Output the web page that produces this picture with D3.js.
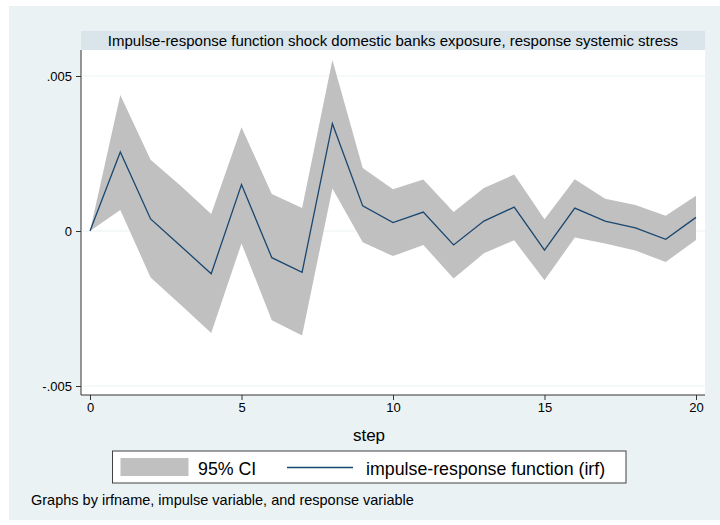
<!DOCTYPE html>
<html>
<head>
<meta charset="utf-8">
<script src="https://cdn.jsdelivr.net/npm/d3@7/dist/d3.min.js"></script>
<style>
    body { margin: 0; background: #ffffff; }
    text { font-family: "Liberation Sans", Arial, sans-serif; fill: #000; }
</style>
</head>
<body>
<div id="chart"></div>
<script>
// values
var steps = d3.range(0, 21);
var irf = [0, 0.00255, 0.00039, -0.00049, -0.00138, 0.0015, -0.00086, -0.00133, 0.00346, 0.00081, 0.00027,
    0.00061, -0.00045, 0.00032, 0.00077, -0.00062, 0.00074, 0.00032, 0.0001, -0.00027, 0.00044];
var upper = [0, 0.00439, 0.0023, 0.00145, 0.00055, 0.00335, 0.00119, 0.00074, 0.00552, 0.00203, 0.00135,
    0.00166, 0.00061, 0.00139, 0.00182, 0.00038, 0.00167, 0.00104, 0.00084, 0.00049, 0.00114];
var lower = [0, 0.00068, -0.0015, -0.00239, -0.00329, -0.0004, -0.00288, -0.00337, 0.00137, -0.00036, -0.00081,
    -0.00045, -0.00153, -0.00072, -0.0003, -0.00159, -0.00021, -0.0004, -0.00063, -0.001, -0.00029];
var yTicks = [-0.005, 0, 0.005];
var yTickLabels = ["-.005", "0", ".005"];
var xTicks = [0, 5, 10, 15, 20];
var title = "Impulse-response function shock domestic banks exposure, response systemic stress";
var legendLabels = ["95% CI", "impulse-response function (irf)"];
var note = "Graphs by irfname, impulse variable, and response variable";

var data = steps.map(function(s, i) {
    return { step: s, irf: irf[i], lo: lower[i], hi: upper[i] };
});

var svg = d3.select("#chart")
    .append("svg")
    .attr("width", 720)
    .attr("height", 525);

// stata style backgrounds
svg.append("rect")
    .attr("x", 9).attr("y", 6)
    .attr("width", 711).attr("height", 514)
    .attr("fill", "#eaf2f3");

var plot = { left: 81, right: 705, top: 50, bottom: 395 };

svg.append("rect")
    .attr("x", plot.left).attr("y", 31)
    .attr("width", plot.right - plot.left).attr("height", 19)
    .attr("fill", "#d9e5eb");
svg.append("text")
    .attr("x", (plot.left + plot.right) / 2)
    .attr("y", 45.5)
    .attr("text-anchor", "middle")
    .style("font-size", "15px")
    .text(title);

svg.append("rect")
    .attr("x", plot.left).attr("y", plot.top)
    .attr("width", plot.right - plot.left).attr("height", plot.bottom - plot.top)
    .attr("fill", "#ffffff");

var x = d3.scaleLinear()
    .domain([0, 20])
    .range([90, 696]);

var y = d3.scaleLinear()
    .domain([-0.005, 0.005])
    .range([386, 76]);

// gridlines
svg.append("g")
    .selectAll("line")
    .data(yTicks)
    .enter().append("line")
    .attr("x1", plot.left + 1)
    .attr("x2", plot.right)
    .attr("y1", function(d) { return y(d); })
    .attr("y2", function(d) { return y(d); })
    .attr("stroke", "#eaf2f3")
    .attr("stroke-width", 1.2);

var area = d3.area()
    .x(function(d) { return x(d.step); })
    .y0(function(d) { return y(d.lo); })
    .y1(function(d) { return y(d.hi); });

svg.append("path")
    .datum(data)
    .attr("d", area)
    .attr("fill", "#c0c0c0");

var line = d3.line()
    .x(function(d) { return x(d.step); })
    .y(function(d) { return y(d.irf); });

svg.append("path")
    .datum(data)
    .attr("d", line)
    .attr("fill", "none")
    .attr("stroke", "#1a476f")
    .attr("stroke-width", 1.3);

// axes
var yAxis = d3.axisLeft(y)
    .tickValues(yTicks)
    .tickSize(5)
    .tickPadding(4)
    .tickFormat(function(d, i) { return yTickLabels[i]; });

var gy = svg.append("g")
    .attr("transform", "translate(" + plot.left + ",0)")
    .call(yAxis);
gy.select(".domain").remove();
gy.append("line")
    .attr("x1", 0).attr("x2", 0)
    .attr("y1", plot.top).attr("y2", plot.bottom)
    .attr("stroke", "#333");

var xAxis = d3.axisBottom(x)
    .tickValues(xTicks)
    .tickSize(5)
    .tickPadding(3)
    .tickFormat(d3.format("d"));

var gx = svg.append("g")
    .attr("transform", "translate(0," + plot.bottom + ")")
    .call(xAxis);
gx.select(".domain").remove();
gx.append("line")
    .attr("x1", plot.left).attr("x2", plot.right)
    .attr("y1", 0).attr("y2", 0)
    .attr("stroke", "#333");

svg.selectAll(".tick line").attr("stroke", "#333");
svg.selectAll(".tick text")
    .style("font-size", "13px")
    .style("font-family", "'Liberation Sans', Arial, sans-serif")
    .attr("fill", "#000");

svg.append("text")
    .attr("x", 369)
    .attr("y", 441)
    .attr("text-anchor", "middle")
    .style("font-size", "17px")
    .text("step");

// legend
var legend = svg.append("g").attr("class", "legend");
legend.append("rect")
    .attr("x", 112.5).attr("y", 451)
    .attr("width", 513.5).attr("height", 32)
    .attr("fill", "#ffffff")
    .attr("stroke", "#404040")
    .attr("stroke-width", 1);
legend.append("rect")
    .attr("x", 120.5).attr("y", 458)
    .attr("width", 68).attr("height", 18)
    .attr("fill", "#c0c0c0");
legend.append("text")
    .attr("x", 198)
    .attr("y", 474.5)
    .style("font-size", "17.8px")
    .text(legendLabels[0]);
legend.append("line")
    .attr("x1", 287).attr("x2", 353)
    .attr("y1", 467.5).attr("y2", 467.5)
    .attr("stroke", "#1a476f")
    .attr("stroke-width", 1.3);
legend.append("text")
    .attr("x", 366)
    .attr("y", 474.5)
    .style("font-size", "17.8px")
    .text(legendLabels[1]);

svg.append("text")
    .attr("x", 31)
    .attr("y", 505)
    .style("font-size", "14.5px")
    .text(note);
</script>
</body>
</html>
